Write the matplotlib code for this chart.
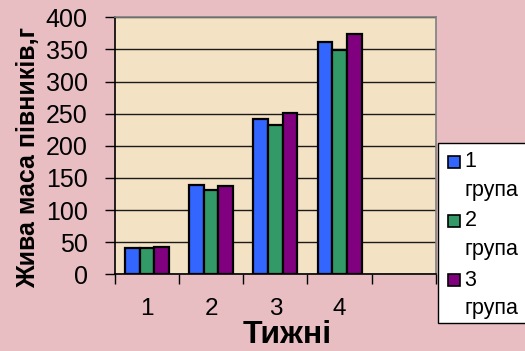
import matplotlib
matplotlib.use("Agg")
import matplotlib.pyplot as plt
from matplotlib.patches import Rectangle
import numpy as np

weeks = ["1", "2", "3", "4", ""]
group_labels = ["1\nгрупа", "2\nгрупа", "3\nгрупа"]
group1 = [41, 139, 241, 361]
group2 = [41, 131, 233, 349]
group3 = [42, 138, 251, 374]
series = [group1, group2, group3]
colors = ["#3366FF", "#339966", "#800080"]

plt.rcParams["font.family"] = ["Liberation Sans", "DejaVu Sans"]

W, H = 525, 351
fig = plt.figure(figsize=(W / 100, H / 100), dpi=100)
fig.patch.set_facecolor("#E9BEC3")

ax = fig.add_axes([114.7 / W, 1 - 274.3 / H, (436 - 114.7) / W, (274.3 - 17.3) / H])
ax.set_facecolor("#F3E3C4")

bar_w = 0.228
x = np.arange(1, 5)
for i, (vals, c) in enumerate(zip(series, colors)):
    ax.bar(x + (i - 1) * bar_w, vals, width=bar_w, color=c,
           edgecolor="black", linewidth=1.6, zorder=3)

ax.set_xlim(0.5, 5.5)
ax.set_ylim(0, 400)
ax.set_yticks(np.arange(0, 401, 50))
ax.yaxis.grid(True, color="#1a1a1a", linewidth=1.0, zorder=1)
ax.set_axisbelow(True)

ax.set_xticks(np.arange(0.5, 5.6, 1.0))
ax.set_xticklabels([])
ax.set_xticks(np.arange(1, 6), minor=True)
ax.set_xticklabels(weeks, minor=True)
ax.tick_params(axis="x", which="major", length=7, width=1, direction="out")
ax.tick_params(axis="x", which="minor", length=0, pad=17, labelsize=17.5)
ax.tick_params(axis="y", length=7, width=1, direction="out", labelsize=18, pad=12.5)

for s in ["top", "right"]:
    ax.spines[s].set_color("#808080")
    ax.spines[s].set_linewidth(1.2)
for s in ["left", "bottom"]:
    ax.spines[s].set_color("black")
    ax.spines[s].set_linewidth(1.2)

ax.set_ylabel("Жива маса півників,г", fontsize=18, fontweight="bold",
              va="center", ha="center")
ax.set_xlabel("Тижні", fontsize=23, fontweight="bold", va="center", ha="center")
ax.yaxis.set_label_coords((28 - 114.7) / 321.3, (274.3 - 157.5) / 257)
ax.xaxis.set_label_coords((287.5 - 114.7) / 321.3, (274.3 - 335) / 257)

# legend box
def px(xp, yp):
    return xp / W, 1 - yp / H

lx0, ly0, lx1, ly1 = 437.7, 143.3, 530, 322.7
fig.patches.append(Rectangle(px(lx0, ly1), (lx1 - lx0) / W, (ly1 - ly0) / H,
                             transform=fig.transFigure, facecolor="white",
                             edgecolor="black", linewidth=1.0, zorder=5))
for i, (lab, c) in enumerate(zip(group_labels, colors)):
    yc = 161.7 + i * 59.2
    fig.patches.append(Rectangle(px(448, yc + 6), 12 / W, 12 / H,
                                 transform=fig.transFigure, facecolor=c,
                                 edgecolor="black", linewidth=1.2, zorder=6))
    num, word = lab.split("\n")
    fig.text(*px(464.5, yc), num, fontsize=15.5, va="center", ha="left", zorder=7)
    fig.text(*px(464.5, yc + 28.5), word, fontsize=15.5, va="center", ha="left", zorder=7)

fig.savefig("out.png", dpi=100, facecolor=fig.get_facecolor())
